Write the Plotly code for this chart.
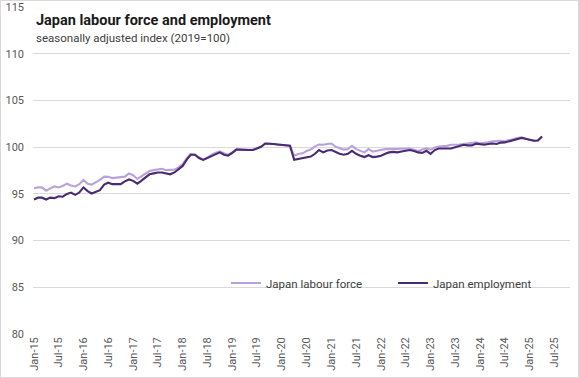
import pandas as pd
import plotly.graph_objects as go

start_month = "2015-01-01"
labour_force = [
    95.6, 95.7, 95.7, 95.35, 95.6, 95.8, 95.7, 95.85, 96.1, 95.9, 95.8, 96.05,
    96.5, 96.1, 96.0, 96.25, 96.5, 96.85, 96.83, 96.7, 96.75, 96.8, 96.85, 97.2,
    97.0, 96.6, 96.85, 97.2, 97.45, 97.55, 97.65, 97.7, 97.55, 97.55, 97.6, 97.85,
    98.2, 98.85, 99.27, 99.2, 98.9, 98.65, 98.9, 99.2, 99.4, 99.55, 99.35, 99.2,
    99.45, 99.8, 99.75, 99.7, 99.72, 99.72, 99.9, 100.05, 100.4, 100.4, 100.35, 100.3,
    100.27, 100.25, 100.16, 99.1, 99.27, 99.35, 99.6, 99.75, 100.1, 100.3, 100.27, 100.35,
    100.4, 100.05, 99.9, 99.75, 99.8, 100.16, 99.8, 99.62, 99.45, 99.8, 99.52, 99.62,
    99.72, 99.8, 99.8, 99.8, 99.82, 99.82, 99.87, 99.87, 99.73, 99.6, 99.75, 99.87,
    99.75, 99.98, 100.08, 100.1, 100.15, 100.27, 100.25, 100.3, 100.34, 100.38, 100.42, 100.52,
    100.42, 100.45, 100.52, 100.63, 100.65, 100.7, 100.63, 100.77, 100.9, 101.0, 101.06, 100.9,
    100.78, 100.7, 100.72, 101.15,
]
employment = [
    94.4, 94.6, 94.6, 94.4, 94.6, 94.55, 94.75, 94.7, 95.0, 95.15, 94.9, 95.15,
    95.7, 95.3, 95.05, 95.25, 95.4, 96.0, 96.2, 96.05, 96.05, 96.05, 96.35, 96.55,
    96.4, 96.1, 96.4, 96.75, 97.1, 97.2, 97.3, 97.3, 97.2, 97.1, 97.3, 97.6,
    98.0, 98.7, 99.2, 99.2, 98.85, 98.65, 98.85, 99.1, 99.3, 99.45, 99.2, 99.1,
    99.4, 99.75, 99.75, 99.7, 99.7, 99.7, 99.9, 100.05, 100.4, 100.4, 100.35, 100.3,
    100.27, 100.25, 100.16, 98.65, 98.73, 98.78, 98.9, 99.0, 99.3, 99.7, 99.45, 99.65,
    99.7, 99.5, 99.3, 99.2, 99.3, 99.62, 99.3, 99.1, 98.95, 99.15, 98.95, 99.0,
    99.1, 99.3, 99.45, 99.5, 99.45, 99.55, 99.62, 99.7, 99.6, 99.45, 99.4, 99.62,
    99.3, 99.7, 99.87, 99.87, 99.87, 99.87, 100.0, 100.12, 100.27, 100.2, 100.2, 100.38,
    100.3, 100.27, 100.35, 100.4, 100.35, 100.5, 100.52, 100.65, 100.8, 100.92, 101.0, 100.9,
    100.78, 100.7, 100.72, 101.15,
]
months = pd.date_range(start_month, periods=len(employment), freq="MS")

series_names = ["Japan labour force", "Japan employment"]
series_colors = ["#b9a2dc", "#4a2a72"]
title_text = "Japan labour force and employment"
subtitle_text = "seasonally adjusted index (2019=100)"
y_ticks = [80, 85, 90, 95, 100, 105, 110, 115]

W, H = 579, 378
L, R, T, B = 33, 9, 7, 44
pw, ph = W - L - R, H - T - B

def px_x(p):
    return (p - L) / pw

def px_y(p):
    return (H - B - p) / ph

fig = go.Figure()
for name, vals, col in zip(series_names, [labour_force, employment], series_colors):
    fig.add_trace(go.Scatter(x=months, y=vals, mode="lines", name=name,
                             line=dict(color=col, width=2.1)))

fig.update_layout(
    width=W, height=H,
    margin=dict(l=L, r=R, t=T, b=B, autoexpand=False),
    paper_bgcolor="white", plot_bgcolor="white",
    font=dict(family="Roboto", color="#595959", size=11),
    showlegend=True,
    legend=dict(orientation="h", x=px_x(226), y=px_y(283), xanchor="left", yanchor="middle",
                entrywidth=122, entrywidthmode="pixels",
                font=dict(family="Roboto", size=11.5, color="#404040"), bgcolor="rgba(0,0,0,0)",
                itemwidth=30),
    annotations=[
        dict(text="<b>" + title_text + "</b>", x=px_x(34), y=px_y(20), xref="paper", yref="paper",
             xanchor="left", yanchor="middle", showarrow=False,
             font=dict(family="Roboto", size=14.5, color="#1a1a1a")),
        dict(text=subtitle_text, x=px_x(34), y=px_y(38), xref="paper", yref="paper",
             xanchor="left", yanchor="middle", showarrow=False,
             font=dict(family="Roboto", size=11.5, color="#404040")),
    ],
    shapes=[dict(type="rect", xref="paper", yref="paper",
                 x0=px_x(0.5), x1=px_x(W - 0.5), y0=px_y(H - 0.5), y1=px_y(0.5),
                 line=dict(color="#d9d9d9", width=1), fillcolor="rgba(0,0,0,0)", layer="below")],
)
fig.update_xaxes(
    range=["2014-12-25", "2025-10-24"],
    tick0="2015-01-01", dtick="M6", tickformat="%b-%y", tickangle=-90,
    showgrid=False, showline=False, zeroline=False, ticks="",
    tickfont=dict(size=11, color="#595959"),
)
fig.update_yaxes(
    range=[80, 115.02], tickvals=y_ticks, showgrid=True, gridcolor="#d9d9d9", gridwidth=1,
    zeroline=False, showline=False, ticks="", ticklabelstandoff=8,
    tickfont=dict(size=11, color="#595959"),
)
fig.write_html("out.html", config={"displayModeBar": False},
               post_script="document.body.style.margin='0';document.body.style.overflow='hidden';")
